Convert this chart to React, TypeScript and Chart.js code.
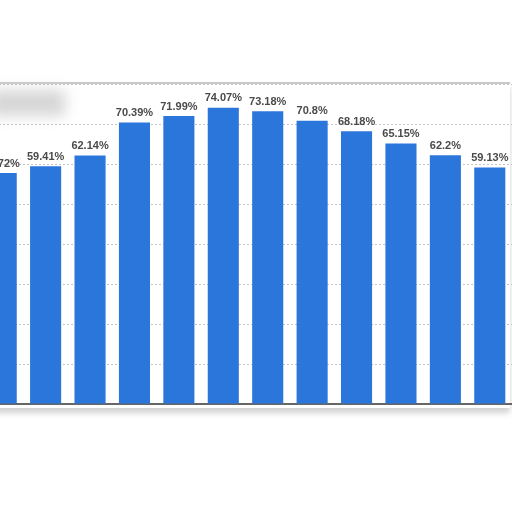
import { useEffect, useRef } from 'react';
import { Chart, registerables } from 'chart.js';

Chart.register(...registerables);

// months (x labels are cut off in the picture)
const months = ['Jan', 'Feb', 'Mar', 'Apr', 'May', 'Jun', 'Jul', 'Aug', 'Sep', 'Oct', 'Nov', 'Dec'];
const shares = [57.72, 59.41, 62.14, 70.39, 71.99, 74.07, 73.18, 70.8, 68.18, 65.15, 62.2, 59.13];
const yMin = 0;
const yMax = 80;
const yStep = 10;

const barLabels = {
    id: 'barLabels',
    afterDatasetsDraw(chart: Chart) {
        const ctx = chart.ctx;
        const meta = chart.getDatasetMeta(0);
        ctx.save();
        ctx.font = 'bold 11px "Liberation Sans", Arial, sans-serif';
        ctx.fillStyle = '#4a4a4a';
        ctx.textAlign = 'center';
        ctx.textBaseline = 'bottom';
        meta.data.forEach((bar: any, i: number) => {
            ctx.fillText(`${shares[i]}%`, bar.x, bar.y - 4);
        });
        ctx.restore();
    },
};

export default function App() {
    const canvasRef = useRef<HTMLCanvasElement | null>(null);
    const chartRef = useRef<Chart | null>(null);

    useEffect(() => {
        if (!canvasRef.current) return;
        chartRef.current?.destroy();
        chartRef.current = new Chart(canvasRef.current, {
            type: 'bar',
            data: {
                labels: months,
                datasets: [
                    {
                        label: 'Share',
                        data: shares,
                        backgroundColor: '#2b76db',
                        barPercentage: 0.7,
                        categoryPercentage: 1,
                    },
                ],
            },
            options: {
                animation: false,
                responsive: true,
                maintainAspectRatio: false,
                layout: { padding: { top: 24, left: 0, right: 0, bottom: 0 } },
                plugins: { legend: { display: false }, tooltip: { enabled: false } },
                scales: {
                    x: {
                        ticks: { display: false },
                        grid: { display: false },
                        border: { display: true, color: '#666', width: 2 },
                    },
                    y: {
                        min: yMin,
                        max: yMax,
                        ticks: { display: false, stepSize: yStep },
                        grid: { color: '#c4c4c4', drawTicks: false, lineWidth: 1 },
                        border: { display: false, dash: [2, 2] },
                    },
                },
            },
            plugins: [barLabels],
        });
        return () => chartRef.current?.destroy();
    }, []);

    return (
        <div style={{ position: 'fixed', inset: 0, background: '#fff', overflow: 'hidden' }}>
            <div
                style={{
                    position: 'absolute',
                    left: -10,
                    top: 82,
                    width: 520,
                    height: 324,
                    borderTop: '2px solid #c9c9c9',
                    boxShadow: '0 5px 6px rgba(0,0,0,0.18)',
                    background: '#fff',
                }}
            />
            <div
                style={{
                    position: 'absolute',
                    left: -10,
                    top: 90,
                    width: 75,
                    height: 26,
                    background: '#d6d6d6',
                    filter: 'blur(7px)',
                }}
            />
            <div style={{ position: 'absolute', left: -21, top: 60, width: 533, height: 352 }}>
                <canvas ref={canvasRef} />
            </div>
        </div>
    );
}
